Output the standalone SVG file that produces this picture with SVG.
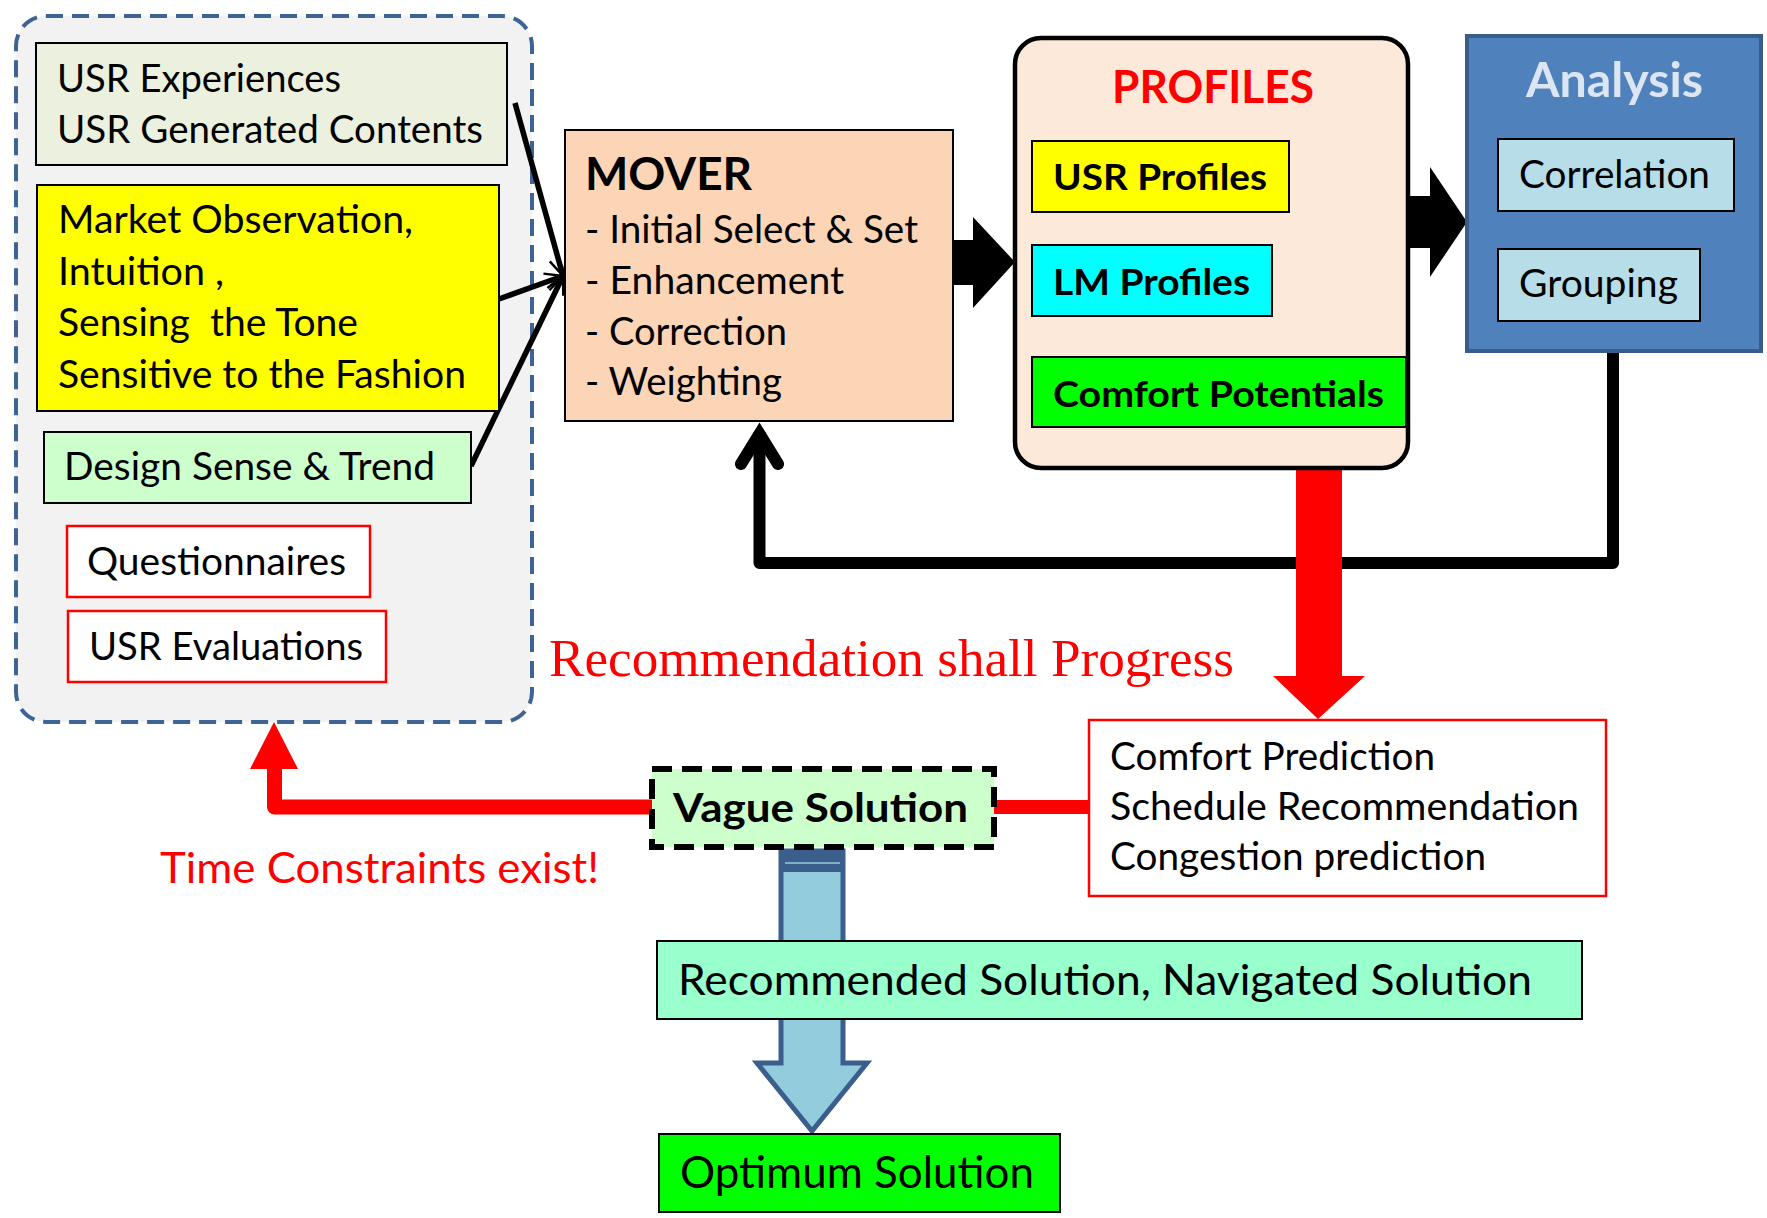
<svg xmlns="http://www.w3.org/2000/svg" width="1767" height="1218" viewBox="0 0 1767 1218">
  <style>
    .t { font-family: Lato, "Liberation Sans", sans-serif; fill: #000; }
    .b { font-weight: bold; }
    .r { fill: #ff0000; }
    .box { stroke: #000; stroke-width: 2; }
    .redbox { fill: #fff; stroke: #ff0000; stroke-width: 2.5; }
    .thin { fill: none; stroke: #000; stroke-width: 5.5; marker-end: url(#open); }
  </style>
  <defs>
    <marker id="open" viewBox="0 0 10 10" refX="9" refY="5" markerWidth="4" markerHeight="4" orient="auto" markerUnits="strokeWidth" overflow="visible">
      <path d="M1,1 L9,5 L1,9" fill="none" stroke="#000" stroke-width="1.1" stroke-linejoin="miter"/>
    </marker>
  </defs>

  <rect width="1767" height="1218" fill="#fff"/>

  <!-- input sources container -->
  <g id="sources">
    <rect x="16" y="16" width="516" height="706" rx="30" fill="#f2f2f2" stroke="#3d6494" stroke-width="4" stroke-dasharray="17 9"/>
  </g>

  <g id="connectors">
    <!-- inputs into MOVER -->
    <line class="thin" x1="515" y1="103" x2="563" y2="276"/>
    <line class="thin" x1="499" y1="299" x2="563" y2="276"/>
    <line class="thin" x1="471" y1="466" x2="563" y2="276"/>
    <!-- MOVER to PROFILES -->
    <polygon points="953,240 973,240 973,217 1015,262 973,308 973,285 953,285" fill="#000"/>
    <!-- PROFILES to Analysis -->
    <polygon points="1408,196 1430,196 1430,167 1467,222 1430,277 1430,248 1408,248" fill="#000"/>
    <!-- feedback from Analysis back to MOVER -->
    <path d="M1613,350 V563 H759.5 V432" fill="none" stroke="#000" stroke-width="12" stroke-linejoin="round"/>
    <polyline points="741,464 759.5,434 778,464" fill="none" stroke="#000" stroke-width="12" stroke-linecap="round" stroke-linejoin="miter"/>
    <!-- PROFILES to predictions -->
    <path d="M1296,466 H1342 V676 H1365 L1318,719 L1273,676 H1296 Z" fill="#ff0000"/>
    <!-- predictions to vague solution -->
    <line x1="992" y1="807" x2="1090" y2="807" stroke="#ff0000" stroke-width="14"/>
    <!-- vague solution back to sources -->
    <path d="M653,807 H274.5 V765" fill="none" stroke="#ff0000" stroke-width="15" stroke-linejoin="round"/>
    <polygon points="250,769 298,769 274,722" fill="#ff0000"/>
    <!-- vague solution down to optimum -->
    <path d="M781,851 H843 V1063 H867 L812,1131 L757,1063 H781 Z" fill="#93cddd" stroke="#3b5f8c" stroke-width="5" stroke-linejoin="miter"/>
    <rect x="779" y="851" width="66" height="21" fill="#3b5f8c"/>
    <line x1="785" y1="863" x2="840" y2="863" stroke="#93cddd" stroke-width="1.5"/>
  </g>

  <g id="usr-experiences">
    <rect class="box" x="36" y="43" width="471" height="122" fill="#ebf1de"/>
    <text class="t" x="57" y="92" font-size="39" textLength="284" lengthAdjust="spacingAndGlyphs">USR Experiences</text>
    <text class="t" x="57" y="143" font-size="39" textLength="426" lengthAdjust="spacingAndGlyphs">USR Generated Contents</text>
  </g>

  <g id="market">
    <rect class="box" x="37" y="185" width="462" height="226" fill="#ffff00"/>
    <text class="t" x="58" y="233" font-size="39" textLength="355" lengthAdjust="spacingAndGlyphs">Market Observation,</text>
    <text class="t" x="58" y="285" font-size="39" textLength="166" lengthAdjust="spacingAndGlyphs">Intuition ,</text>
    <text class="t" x="58" y="336" font-size="39" textLength="300" lengthAdjust="spacingAndGlyphs" style="white-space:pre">Sensing  the Tone</text>
    <text class="t" x="58" y="388" font-size="39" textLength="408" lengthAdjust="spacingAndGlyphs">Sensitive to the Fashion</text>
  </g>

  <g id="design">
    <rect class="box" x="44" y="432" width="427" height="71" fill="#ccffcc"/>
    <text class="t" x="64" y="480" font-size="39" textLength="371" lengthAdjust="spacingAndGlyphs">Design Sense &amp; Trend</text>
  </g>

  <g id="questionnaires">
    <rect class="redbox" x="67" y="526" width="303" height="71"/>
    <text class="t" x="87" y="575" font-size="39" textLength="259" lengthAdjust="spacingAndGlyphs">Questionnaires</text>
  </g>

  <g id="usr-evaluations">
    <rect class="redbox" x="68" y="611" width="318" height="71"/>
    <text class="t" x="89" y="660" font-size="39" textLength="274" lengthAdjust="spacingAndGlyphs">USR Evaluations</text>
  </g>

  <g id="mover">
    <rect class="box" x="565" y="130" width="388" height="291" fill="#fbd5b5"/>
    <text class="t b" x="585" y="190" font-size="46" textLength="167" lengthAdjust="spacingAndGlyphs">MOVER</text>
    <text class="t" x="585" y="243" font-size="39" textLength="333" lengthAdjust="spacingAndGlyphs">- Initial Select &amp; Set</text>
    <text class="t" x="585" y="294" font-size="39" textLength="259" lengthAdjust="spacingAndGlyphs">- Enhancement</text>
    <text class="t" x="585" y="345" font-size="39" textLength="202" lengthAdjust="spacingAndGlyphs">- Correction</text>
    <text class="t" x="585" y="395" font-size="39" textLength="197" lengthAdjust="spacingAndGlyphs">- Weighting</text>
  </g>

  <g id="profiles">
    <rect x="1015" y="38" width="393" height="430" rx="26" fill="#fde9d9" stroke="#000" stroke-width="4.5"/>
    <text class="t b r" x="1112" y="103" font-size="46" textLength="202" lengthAdjust="spacingAndGlyphs">PROFILES</text>
    <rect class="box" x="1032" y="141" width="257" height="71" fill="#ffff00"/>
    <text class="t b" x="1053" y="190" font-size="36" textLength="214" lengthAdjust="spacingAndGlyphs">USR Profiles</text>
    <rect class="box" x="1032" y="245" width="240" height="71" fill="#00ffff"/>
    <text class="t b" x="1053" y="295" font-size="36" textLength="197" lengthAdjust="spacingAndGlyphs">LM Profiles</text>
    <rect class="box" x="1032" y="357" width="374" height="70" fill="#00ff00"/>
    <text class="t b" x="1053" y="407" font-size="36" textLength="331" lengthAdjust="spacingAndGlyphs">Comfort Potentials</text>
  </g>

  <g id="analysis">
    <rect x="1467" y="36" width="294" height="315" fill="#4f81bd" stroke="#385d8a" stroke-width="4"/>
    <text class="t b" x="1526" y="97" font-size="48" style="fill:#dce6f2" textLength="177" lengthAdjust="spacingAndGlyphs">Analysis</text>
    <rect class="box" x="1498" y="139" width="236" height="72" fill="#b7dee8"/>
    <text class="t" x="1519" y="188" font-size="39" textLength="191" lengthAdjust="spacingAndGlyphs">Correlation</text>
    <rect class="box" x="1498" y="249" width="202" height="72" fill="#b7dee8"/>
    <text class="t" x="1519" y="297" font-size="39" textLength="159" lengthAdjust="spacingAndGlyphs">Grouping</text>
  </g>

  <g id="progress-note">
    <text x="549" y="676" font-family="'Liberation Serif', 'Times New Roman', serif" font-size="53" fill="#ff0000" textLength="685" lengthAdjust="spacingAndGlyphs">Recommendation shall Progress</text>
  </g>

  <g id="predictions">
    <rect class="redbox" x="1089" y="720" width="517" height="176" stroke-width="3"/>
    <text class="t" x="1110" y="770" font-size="39" textLength="325" lengthAdjust="spacingAndGlyphs">Comfort Prediction</text>
    <text class="t" x="1110" y="820" font-size="39" textLength="469" lengthAdjust="spacingAndGlyphs">Schedule Recommendation</text>
    <text class="t" x="1110" y="870" font-size="39" textLength="376" lengthAdjust="spacingAndGlyphs">Congestion prediction</text>
  </g>

  <g id="vague-solution">
    <rect x="652" y="769" width="342" height="78" fill="#ccffcc" stroke="#000" stroke-width="6" stroke-dasharray="20 10"/>
    <text class="t b" x="673" y="822" font-size="40" textLength="295" lengthAdjust="spacingAndGlyphs">Vague Solution</text>
  </g>

  <g id="time-note">
    <text class="t r" x="160" y="883" font-size="42" textLength="439" lengthAdjust="spacingAndGlyphs">Time Constraints exist!</text>
  </g>

  <g id="recommended">
    <rect class="box" x="657" y="941" width="925" height="78" fill="#99ffcc"/>
    <text class="t" x="678" y="995" font-size="43" textLength="854" lengthAdjust="spacingAndGlyphs">Recommended Solution, Navigated Solution</text>
  </g>

  <g id="optimum">
    <rect class="box" x="659" y="1134" width="401" height="78" fill="#00ff00"/>
    <text class="t" x="680" y="1188" font-size="44" textLength="354" lengthAdjust="spacingAndGlyphs">Optimum Solution</text>
  </g>
</svg>
